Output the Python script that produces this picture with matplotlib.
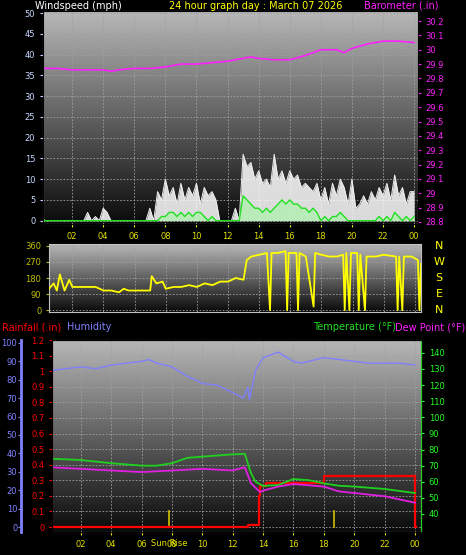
import numpy as np
import matplotlib
matplotlib.use("Agg")
import matplotlib.pyplot as plt

# ---- data ----
wind_t = np.arange(0, 24.01, 0.25)
gust = [1, 0, 0, 0,  0, 0, 0, 0,  0, 0, 0, 0,  2, 0, 1, 0,  3, 2, 0, 0,
        0, 0, 0, 0,  0, 0, 0, 0,  3, 0, 7, 5,  10, 6, 8, 4,  9, 5, 8, 6,
        9, 4, 8, 6,  7, 5, 0, 0,  0, 0, 3, 0,  16, 13, 14, 10,  12, 9, 10, 8,
        16, 10, 12, 9,  12, 10, 11, 8,  9, 8, 7, 9,  5, 8, 4, 9,  6, 10, 8, 4,
        10, 3, 4, 6,  4, 7, 5, 8,  6, 9, 5, 11,  6, 8, 4, 7,  7]
avg_wind = [1, 0, 0, 0,  0, 0, 0, 0,  0, 0, 0, 0,  0, 0, 0, 0,  0, 0, 0, 0,
            0, 0, 0, 0,  0, 0, 0, 0,  0, 0, 0, 1,  1, 2, 2, 1,  2, 1, 2, 1,
            2, 2, 1, 0,  1, 0, 0, 0,  0, 0, 0, 0,  6, 5, 4, 3,  3, 2, 3, 2,
            3, 4, 5, 4,  5, 4, 4, 3,  3, 2, 3, 2,  0, 1, 0, 1,  1, 2, 1, 0,
            0, 0, 0, 0,  0, 0, 0, 1,  0, 1, 0, 2,  1, 0, 1, 0,  1]

baro_t = [0, 1, 2, 3, 4, 4.5, 5, 6, 7, 8, 9, 10, 11, 12, 13, 13.5, 14, 15, 16,
          17, 18, 19, 19.5, 20, 21, 22, 23, 24]
baro = [29.87, 29.87, 29.86, 29.86, 29.86, 29.85, 29.86, 29.87, 29.87, 29.88,
        29.90, 29.90, 29.91, 29.92, 29.94, 29.95, 29.94, 29.93, 29.93, 29.96,
        30.0, 30.0, 29.98, 30.01, 30.04, 30.06, 30.06, 30.05]

dir_t = [0.5, 0.8, 1.0, 1.2, 1.5, 1.8, 2.0, 2.5, 3.0, 3.5, 4.0, 4.5, 5.0, 5.3,
         5.6, 6.0, 6.5, 7.0, 7.1, 7.4, 7.8, 8.0, 8.5, 9.0, 9.5, 10.0, 10.5,
         11.0, 11.5, 12.0, 12.5, 13.0, 13.2, 13.5, 14.0, 14.5, 14.7, 14.8,
         15.2, 15.7, 15.8, 15.9, 16.4, 16.5, 16.6, 17.0, 17.5, 17.6, 18.0,
         18.5, 19.0, 19.4, 19.5, 19.6, 19.8, 19.9, 20.3, 20.4, 20.5, 20.8,
         20.9, 21.5, 22.0, 22.8, 22.9, 23.0, 23.2, 23.3, 23.8, 24.2, 24.3, 24.4]
direction = [120, 150, 110, 200, 110, 170, 130, 130, 130, 130, 110, 110, 100, 120,
             110, 110, 110, 110, 190, 150, 160, 120, 130, 130, 140, 130, 150,
             140, 160, 160, 180, 170, 280, 300, 310, 320, 0, 320,
             320, 330, 0, 320, 320, 0, 320, 300, 20, 320, 310,
             300, 300, 310, 0, 320, 0, 320, 320, 0, 310, 0,
             300, 300, 310, 300, 0, 300, 0, 300, 300, 280, 0, 260]

hum_t = [0, 1, 2, 3, 4, 5, 6, 6.5, 7, 8, 9, 10, 11, 12, 12.7, 13, 13.1, 13.5,
         14, 15, 16, 16.5, 17, 18, 19, 20, 21, 22, 23, 24]
humidity = [85, 86, 87, 86, 88, 89, 90, 91, 89, 87, 82, 78, 77, 73, 70, 76, 69, 85,
            92, 95, 90, 89, 90, 92, 91, 90, 89, 89, 89, 88]

temp_t = [0, 2, 4, 6, 7, 8, 9, 10, 12, 12.8, 13.2, 13.5, 14, 15, 16, 17, 18, 19,
          20, 22, 24]
temperature = [74.3, 73.5, 71.5, 70, 70, 71.5, 74.8, 75.6, 77, 77.3, 65.5, 60, 57.4,
               58, 61.7, 61, 59, 57.5, 57, 55.5, 53]
dew_t = [0, 4, 6, 8, 10, 12, 12.8, 13.2, 13.8, 14, 15, 16, 18, 19, 20, 22, 23, 24]
dewpoint = [69, 67, 66, 67, 68, 67, 69, 59, 53.6, 54.5, 57, 58.6, 57, 54, 53, 51,
            49, 47]

rain_t = [0.1, 12.9, 13.0, 13.6, 13.7, 13.8, 14.2, 17.7, 18.0, 23.9, 24.0, 24.1]
rain = [0, 0, 0.015, 0.015, 0.2, 0.26, 0.285, 0.285, 0.325, 0.325, 0.0, 0.0]

sun_rise, sun_set = 7.8, 18.65
hour_ticks = list(range(2, 25, 2))
hour_labels = ["%02d" % (h % 24) for h in hour_ticks]

BG = "black"
YEL = "#e0e000"
HUM = "#8080ff"
W, H = 466, 555


def box(l, t, r, b):
    return [l / W, (H - b) / H, (r - l) / W, (b - t) / H]


def shade(ax):
    grad = np.linspace(0.04, 0.72, 200).reshape(-1, 1)
    ax.imshow(grad, cmap="gray", vmin=0, vmax=1, aspect="auto", origin="lower",
              extent=[0, 1, 0, 1], transform=ax.transAxes, zorder=0)
    ax.grid(True, color="#a0a0a0", ls=(0, (2, 2)), lw=0.6)
    ax.set_axisbelow(True)
    for s in ax.spines.values():
        s.set_color("#c0c0c0")
    ax.tick_params(labelsize=6, length=2)


plt.rcParams["font.family"] = "DejaVu Sans"
fig = plt.figure(figsize=(W / 100, H / 100), dpi=100, facecolor=BG)

# ---- wind / barometer ----
ax1 = fig.add_axes(box(43, 11, 418, 224))
shade(ax1)
ax1.fill_between(wind_t, gust, color="white", alpha=0.85, lw=0, zorder=2)
ax1.plot(wind_t, gust, color="#f0f0f0", lw=0.7, zorder=2)
ax1.fill_between(wind_t, avg_wind, color="#b0f0b0", alpha=0.8, lw=0, zorder=3)
ax1.plot(wind_t, avg_wind, color="#20e020", lw=1, zorder=4)
ax1.set_xlim(0.13, 24.25)
ax1.set_ylim(-0.8, 50.5)
ax1.set_yticks(range(0, 51, 5))
ax1.set_xticks(hour_ticks, hour_labels)
ax1.tick_params(axis="x", colors=YEL, pad=4)
ax1.tick_params(axis="y", colors="#c8d8ff")
ax1b = ax1.twinx()
ax1b.plot(baro_t, baro, color="#ff20ff", lw=1.2)
ax1b.set_ylim(28.786, 30.27)
ax1b.set_yticks(np.round(np.arange(28.8, 30.21, 0.1), 1))
ax1b.set_yticklabels(["%g" % v for v in np.round(np.arange(28.8, 30.21, 0.1), 1)])
ax1b.tick_params(colors="#ff20ff", labelsize=6, length=2)
ax1b.set_xlim(0.13, 24.25)
fig.text(35 / W, 1 - 6 / H, "Windspeed (mph)", color="white", fontsize=7, va="center")
fig.text(256 / W, 1 - 6 / H, "24 hour graph day : March 07 2026", color="yellow",
         fontsize=7, va="center", ha="center")
fig.text(438 / W, 1 - 6 / H, "Barometer (.in)", color="#ff20ff", fontsize=7,
         va="center", ha="right")

# ---- wind direction ----
ax2 = fig.add_axes(box(49, 244, 421, 312))
shade(ax2)
ax2.plot(dir_t, direction, color="yellow", lw=1.3, zorder=3)
ax2.set_xlim(0.5, 24.4)
ax2.set_ylim(-10, 370)
ax2.set_yticks([0, 90, 180, 270, 360])
ax2.set_xticks(hour_ticks)
ax2.tick_params(axis="x", length=0, labelbottom=False)
ax2.tick_params(axis="y", colors="#c0c000")
for lab, y in zip("NWSEN", [246, 262, 278, 294, 310]):
    fig.text(439 / W, 1 - y / H, lab, color="yellow", fontsize=8, ha="center",
             va="center")

# ---- rain / humidity / temperature ----
ax3 = fig.add_axes(box(52, 340, 421, 532))
shade(ax3)
ax3.step(rain_t, rain, where="post", color="red", lw=1.6, zorder=5)
ax3.set_xlim(0.1, 24.4)
ax3.set_ylim(-0.032, 1.19)
ax3.set_yticks(np.round(np.arange(0, 1.21, 0.1), 1))
ax3.set_yticklabels(["%g" % v for v in np.round(np.arange(0, 1.21, 0.1), 1)])
ax3.spines["left"].set_color("red")
ax3.tick_params(axis="y", colors="red")
ax3.set_xticks(hour_ticks, hour_labels)
ax3.tick_params(axis="x", colors=YEL, pad=4)
for t in (sun_rise, sun_set):
    ax3.plot([t, t], [0, 0.1], color="#d0c000", lw=1.2, zorder=4)
ax3.text(sun_rise, -0.035, "Sun Rise", color=YEL, fontsize=6, ha="center",
         va="top", transform=ax3.get_xaxis_transform())

ax3h = ax3.twinx()
ax3h.plot(hum_t, humidity, color=HUM, lw=1)
ax3h.set_ylim(-2.7, 101.6)
ax3h.yaxis.tick_left()
ax3h.spines["left"].set_position(("outward", 22))
ax3h.spines["left"].set_color(HUM)
ax3h.spines["left"].set_linewidth(2)
ax3h.spines["right"].set_visible(False)
ax3h.set_yticks(range(0, 101, 10))
ax3h.tick_params(colors=HUM, labelsize=6, length=2, pad=1)

ax3t = ax3.twinx()
ax3t.plot(temp_t, temperature, color="#20d020", lw=1.3)
ax3t.plot(dew_t, dewpoint, color="#e020e0", lw=1.3)
ax3t.set_ylim(28.8, 148)
ax3t.set_yticks(range(40, 141, 10))
ax3t.spines["right"].set_color("#20d020")
ax3t.tick_params(colors="#20ff20", labelsize=6, length=2)
ax3t.set_xlim(0.1, 24.4)
ax3h.set_xlim(0.1, 24.4)

fig.text(2 / W, 1 - 327 / H, "Rainfall (.in)", color="red", fontsize=7, va="center")
fig.text(67 / W, 1 - 327 / H, "Humidity", color=HUM, fontsize=7, va="center")
fig.text(313 / W, 1 - 327 / H, "Temperature (\u00b0F)", color="#20e020", fontsize=7,
         va="center")
fig.text(395 / W, 1 - 327 / H, "Dew Point (\u00b0F)", color="#ff20ff", fontsize=7,
         va="center")

fig.savefig("out.png", dpi=100, facecolor=BG)
